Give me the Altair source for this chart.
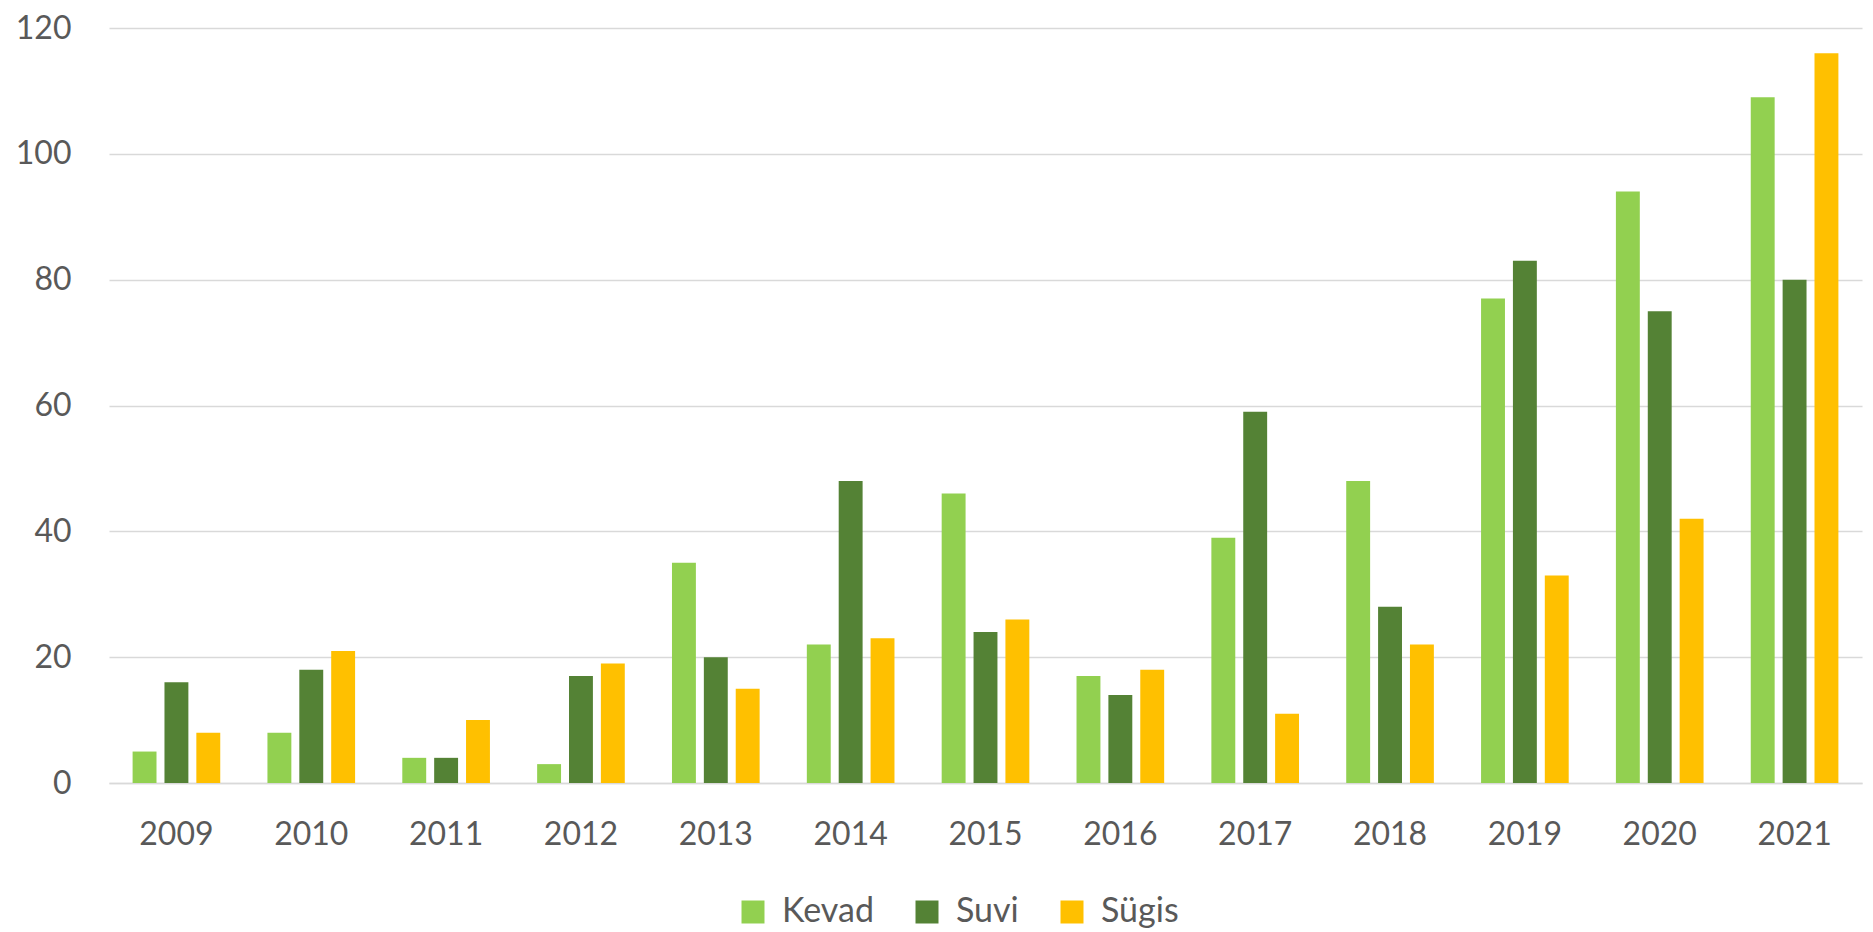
import altair as alt
import pandas as pd

years = ["2009", "2010", "2011", "2012", "2013", "2014", "2015", "2016", "2017", "2018", "2019", "2020", "2021"]
kevad = [5, 8, 4, 3, 35, 22, 46, 17, 39, 48, 77, 94, 109]
suvi = [16, 18, 4, 17, 20, 48, 24, 14, 59, 28, 83, 75, 80]
sugis = [8, 21, 10, 19, 15, 23, 26, 18, 11, 22, 33, 42, 116]
series = ["Kevad", "Suvi", "Sügis"]
colors = ["#92D050", "#548235", "#FFC000"]

rows = []
for name, vals in zip(series, [kevad, suvi, sugis]):
    for y, v in zip(years, vals):
        rows.append({"Aasta": y, "Hooaeg": name, "Arv": v})
df = pd.DataFrame(rows)

FONT = "Lato"
TXT = "#595959"

chart = alt.Chart(df).mark_bar().encode(
    x=alt.X("Aasta:N", sort=years, title=None,
            scale=alt.Scale(paddingInner=0.35, paddingOuter=0.175),
            axis=alt.Axis(labelAngle=0, labelFontSize=32, labelColor=TXT, labelFont=FONT,
                          ticks=False, domainColor="#D9D9D9", domainWidth=1.5, labelPadding=36)),
    xOffset=alt.XOffset("Hooaeg:N", sort=series, scale=alt.Scale(paddingInner=0.25)),
    y=alt.Y("Arv:Q", title=None,
            scale=alt.Scale(domain=[0, 120]),
            axis=alt.Axis(values=[0, 20, 40, 60, 80, 100, 120], labelFontSize=32, labelColor=TXT,
                          labelFont=FONT, ticks=False, domain=False, gridColor="#D9D9D9",
                          gridWidth=1.5, labelPadding=38)),
    color=alt.Color("Hooaeg:N", sort=series,
                    scale=alt.Scale(domain=series, range=colors),
                    legend=alt.Legend(title=None, orient="none", legendX=627, legendY=867,
                                      direction="horizontal",
                                      symbolType="square", symbolSize=529, symbolStrokeWidth=0,
                                      labelFontSize=34, labelColor=TXT, labelFont=FONT,
                                      columnPadding=36, symbolOffset=0, labelOffset=12)),
).properties(
    width=1753, height=755, padding={"left": 7, "top": 4, "right": 2, "bottom": 2}
).configure_view(stroke=None)

chart.save("out.html", embed_options={"renderer": "svg", "actions": False})
